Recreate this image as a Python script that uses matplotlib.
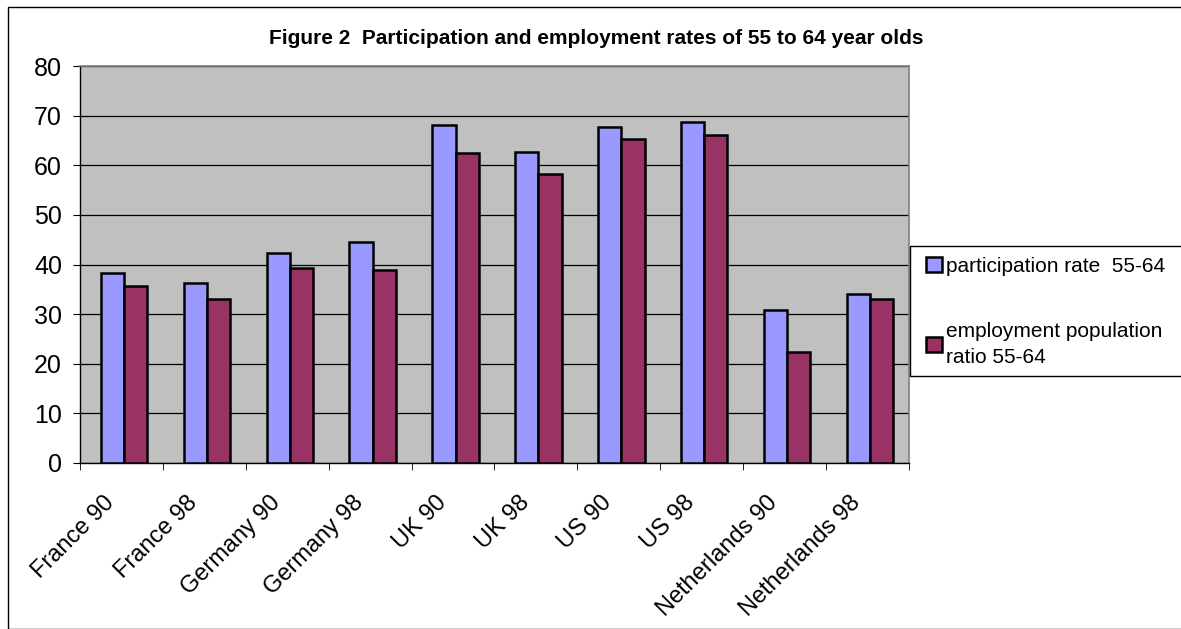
import numpy as np
import matplotlib
matplotlib.use('Agg')
import matplotlib.pyplot as plt
import matplotlib.transforms as mtrans
from matplotlib.patches import Rectangle

plt.rcParams['font.family'] = ['Liberation Sans', 'DejaVu Sans']

categories = ['France 90', 'France 98', 'Germany 90', 'Germany 98', 'UK 90',
              'UK 98', 'US 90', 'US 98', 'Netherlands 90', 'Netherlands 98']
participation = [38.2, 36.2, 42.4, 44.6, 68.1, 62.6, 67.7, 68.8, 30.9, 34.1]
employment = [35.6, 33.1, 39.2, 38.8, 62.4, 58.2, 65.2, 66.1, 22.4, 33.1]
yticks = [0, 10, 20, 30, 40, 50, 60, 70, 80]

W, H = 1181, 629
fig = plt.figure(figsize=(W/100, H/100), dpi=100)
ax = fig.add_axes([80/W, 1-463/H, 829/W, 397/H])

# outer chart border
fig.patches.append(Rectangle((8/W, 0), 1.2, 1-7/H, transform=fig.transFigure,
                             fill=False, edgecolor='black', linewidth=1.0))

x = np.arange(len(categories))
w = 0.28
ax.bar(x - w/2 + 0.03, participation, w, color='#9999ff', edgecolor='black',
       linewidth=1.8, label='participation rate  55-64', zorder=3)
ax.bar(x + w/2 + 0.03, employment, w, color='#993366', edgecolor='black',
       linewidth=1.8, label='employment population\nratio 55-64', zorder=3)

ax.set_facecolor('#c0c0c0')
ax.set_xlim(-0.5, len(categories) - 0.5)
ax.set_ylim(0, 80)
ax.set_yticks(yticks)
ax.set_yticklabels([str(t) for t in yticks], fontsize=18)
ax.yaxis.grid(True, color='black', linewidth=0.9, zorder=0)
ax.set_axisbelow(True)

ax.set_xticks(x)
ax.set_xticklabels(categories, rotation=45, ha='right', rotation_mode='anchor', fontsize=17)
ax.tick_params(axis='x', length=0, pad=10)
offset = mtrans.ScaledTranslation(-0.18, -0.15, fig.dpi_scale_trans)
for lbl in ax.get_xticklabels():
    lbl.set_transform(lbl.get_transform() + offset)
ax.set_xticks(np.arange(-0.5, len(categories)), minor=True)
ax.tick_params(axis='x', which='minor', length=5, direction='out', color='black')
ax.tick_params(axis='y', length=5, direction='out', pad=8)

for s in ['top', 'right']:
    ax.spines[s].set_color('#808080')
    ax.spines[s].set_linewidth(1.2)
for s in ['left', 'bottom']:
    ax.spines[s].set_color('black')
    ax.spines[s].set_linewidth(1.0)

fig.text(596/W, 1-38/H, 'Figure 2  Participation and employment rates of 55 to 64 year olds',
         ha='center', va='center', fontsize=15, fontweight='bold')

# legend box runs off the right edge
fig.patches.append(Rectangle((910/W, 1-376/H), 0.3, 130/H, transform=fig.transFigure,
                             facecolor='white', edgecolor='black', linewidth=1.0))
leg = fig.legend(loc='upper left', bbox_to_anchor=(926/W, 1-257/H),
                 fontsize=15, frameon=False,
                 handlelength=0.75, handleheight=0.75, handletextpad=0.2,
                 labelspacing=2.2, borderpad=0, borderaxespad=0)
for t in leg.get_texts():
    t.set_linespacing(1.45)

fig.savefig('out.png', dpi=100)
